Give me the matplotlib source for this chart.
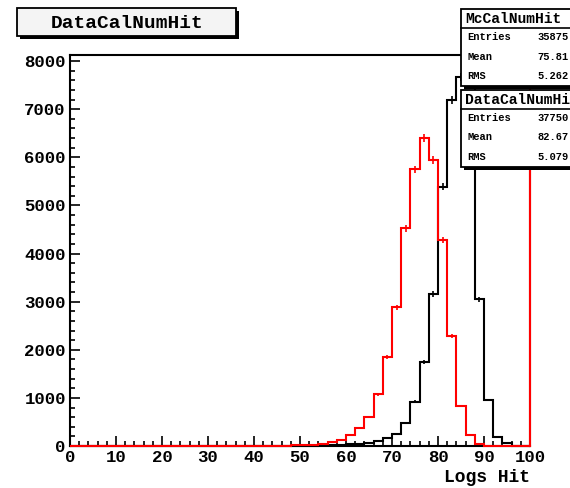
import numpy as np
import matplotlib
matplotlib.use("Agg")
import matplotlib.pyplot as plt
from matplotlib.patches import Rectangle
from matplotlib.ticker import MultipleLocator

# bin edges: 0..100 in steps of 2
bin_edges = np.arange(0, 102, 2)

# black histogram, counts per bin (lower edges 0,2,...,98)
black_counts = [0] * 23 + [10, 10, 10, 10, 15, 20, 25, 35, 50, 70, 104, 159, 240,
                           471, 922, 1753, 3158, 5390, 7190, 7670, 7740, 3050,
                           956, 180, 55, 10, 0]

# red histogram
red_counts = [0] * 23 + [10, 15, 20, 30, 45, 75, 125, 229, 367, 605, 1075, 1856,
                         2882, 4523, 5750, 6400, 5943, 4280, 2286, 831, 229, 50,
                         10, 0, 0, 0, 0]

title = "DataCalNumHit"
xlabel = "Logs Hit"
stats_boxes = [
    ("McCalNumHit", [("Entries", "35875"), ("Mean", "75.81"), ("RMS", "5.262")]),
    ("DataCalNumHit", [("Entries", "37750"), ("Mean", "82.67"), ("RMS", "5.079")]),
]

FONT = "Liberation Mono"
W, H = 570, 488

fig = plt.figure(figsize=(W / 100, H / 100), dpi=100)
ax = fig.add_axes([70 / W, 1 - 446 / H, 460 / W, 391 / H])

centers = 0.5 * (bin_edges[:-1] + bin_edges[1:])
for counts, col, z in [(black_counts, "black", 3), (red_counts, "red", 4)]:
    counts = np.array(counts, dtype=float)
    ax.stairs(counts, bin_edges, color=col, lw=1.5, baseline=0, zorder=z,
              clip_on=False)
    nz = counts > 0
    ax.errorbar(centers[nz], counts[nz], yerr=np.sqrt(counts[nz]), xerr=0.7,
                fmt="none", ecolor=col, elinewidth=1.2, zorder=z)

ax.set_xlim(0, 100)
ax.set_ylim(0, 8125)
ax.axvline(100, color="red", lw=1.5, zorder=5, clip_on=False)

for s in ax.spines.values():
    s.set_linewidth(1.5)
ax.spines["right"].set_color("#600000")

ax.xaxis.set_major_locator(MultipleLocator(10))
ax.xaxis.set_minor_locator(MultipleLocator(2))
ax.yaxis.set_major_locator(MultipleLocator(1000))
ax.yaxis.set_minor_locator(MultipleLocator(200))
ax.tick_params(which="both", direction="in", top=False, right=False, width=1.2)
ax.tick_params(which="major", length=7.5)
ax.tick_params(which="minor", length=3.8)
ax.tick_params(axis="x", pad=3)
ax.tick_params(axis="y", pad=3)
for lab in ax.get_xticklabels() + ax.get_yticklabels():
    lab.set_fontfamily(FONT)
    lab.set_fontweight("bold")
    lab.set_fontsize(12.5)

fig.text(530 / W, 1 - 478 / H, xlabel, ha="right", va="center",
         fontfamily=FONT, fontweight="bold", fontsize=13)


def box(x0, y0, x1, y1, fc="white", shadow=3):
    # pixel coordinates from top-left
    fig.add_artist(Rectangle(((x0 + shadow) / W, 1 - (y1 + shadow) / H),
                             (x1 - x0) / W, (y1 - y0) / H, transform=fig.transFigure,
                             facecolor="black", edgecolor="black", lw=0, zorder=8))
    fig.add_artist(Rectangle((x0 / W, 1 - y1 / H), (x1 - x0) / W, (y1 - y0) / H,
                             transform=fig.transFigure, facecolor=fc,
                             edgecolor="black", lw=1.3, zorder=9))


# title box
box(17, 8, 236, 36, fc="#f4f4f4")
fig.text(127 / W, 1 - 23 / H, title, ha="center", va="center", fontfamily=FONT,
         fontweight="bold", fontsize=14, zorder=10)

# stats boxes
for (name, rows), top in zip(stats_boxes, [9, 90]):
    bottom = top + 77
    box(461, top, 580, bottom)
    fig.add_artist(plt.Line2D([461 / W, 1], [1 - (top + 19) / H] * 2,
                              transform=fig.transFigure, color="black", lw=1.2,
                              zorder=10))
    fig.text(465 / W, 1 - (top + 10) / H, name, ha="left", va="center",
             fontfamily=FONT, fontweight="bold", fontsize=10.5, zorder=11)
    for i, (k, v) in enumerate(rows):
        yy = top + 28 + 19.5 * i
        fig.text(467 / W, 1 - yy / H, k, ha="left", va="center", fontfamily=FONT,
                 fontweight="bold", fontsize=7.5, zorder=11)
        fig.text(537 / W, 1 - yy / H, v, ha="left", va="center", fontfamily=FONT,
                 fontweight="bold", fontsize=7.5, zorder=11)

fig.savefig("out.png", dpi=100, facecolor="white")
